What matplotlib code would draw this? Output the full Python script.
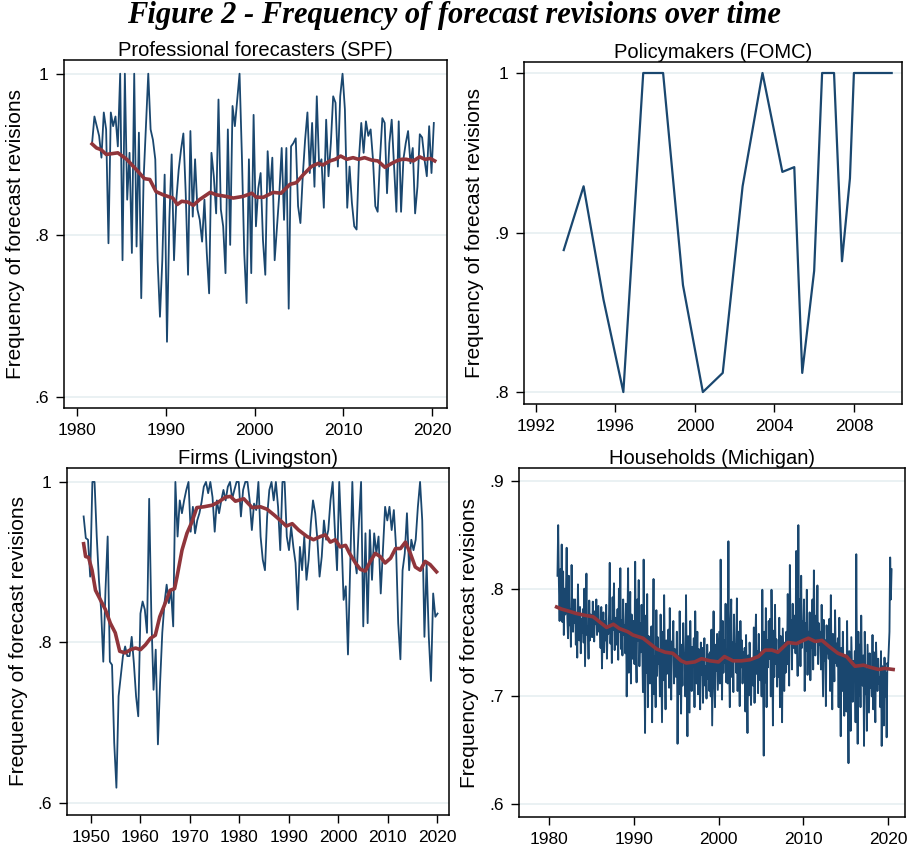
import numpy as np
import matplotlib.pyplot as plt

# === SPF (quarterly share of forecasters revising) ===
spf_rev = [
    0.914, 0.947, 0.935, 0.923, 0.896, 0.952, 0.931, 0.790, 0.952, 0.935,
    0.947, 0.910, 1.000, 0.769, 1.000, 0.844, 0.902, 0.778, 1.000, 0.786,
    0.927, 0.722, 0.869, 0.935, 1.000, 0.931, 0.918, 0.894, 0.769, 0.699,
    0.769, 0.875, 0.668, 0.819, 0.900, 0.769, 0.844, 0.881, 0.906, 0.926,
    0.852, 0.751, 0.929, 0.823, 0.894, 0.832, 0.819, 0.792, 0.844, 0.778,
    0.728, 0.902, 0.873, 0.827, 0.968, 0.832, 0.811, 0.753, 0.931, 0.788,
    0.960, 0.935, 0.968, 1.000, 0.898, 0.778, 0.716, 0.894, 0.753, 0.949,
    0.811, 0.858, 0.877, 0.794, 0.751, 0.904, 0.852, 0.896, 0.769, 0.811,
    0.852, 0.908, 0.819, 0.908, 0.709, 0.910, 0.914, 0.920, 0.836, 0.815,
    0.873, 0.918, 0.952, 0.877, 0.939, 0.860, 0.972, 0.885, 0.894, 0.834,
    0.943, 0.873, 0.914, 0.972, 0.964, 0.885, 0.972, 1.000, 0.956, 0.834,
    0.885, 0.840, 0.811, 0.807, 0.894, 0.939, 0.902, 0.941, 0.923, 0.931,
    0.894, 0.836, 0.829, 0.894, 0.945, 0.939, 0.852, 0.914, 0.943, 0.885,
    0.829, 0.941, 0.829, 0.894, 0.914, 0.929, 0.889, 0.908, 0.827, 0.860,
    0.925, 0.921, 0.894, 0.873, 0.935, 0.877, 0.939,
]
spf_years = np.linspace(1981.7, 2020.2, len(spf_rev))
spf_ma_years = [
    1981.7, 1982.2, 1982.7, 1983.3, 1984.6, 1985.6, 1986.7, 1987.6, 1988.2, 1988.9,
    1989.7, 1990.8, 1991.3, 1991.8, 1992.5, 1993.1, 1993.8, 1995.0, 1995.7, 1996.8,
    1997.6, 1998.7, 1999.7, 2000.2, 2001.0, 2002.1, 2003.0, 2004.0, 2004.7, 2005.5,
    2006.4, 2007.2, 2007.7, 2008.5, 2009.1, 2009.7, 2010.4, 2011.1, 2011.7, 2012.4,
    2013.2, 2013.9, 2014.7, 2015.3, 2016.0, 2016.6, 2017.1, 2017.9, 2018.6, 2019.2,
    2019.8, 2020.3,
]
spf_ma = [
    0.913, 0.908, 0.906, 0.900, 0.902, 0.894, 0.881, 0.870, 0.869, 0.854,
    0.850, 0.846, 0.838, 0.842, 0.841, 0.837, 0.844, 0.853, 0.850, 0.848,
    0.846, 0.848, 0.852, 0.847, 0.847, 0.853, 0.852, 0.863, 0.865, 0.875,
    0.885, 0.889, 0.887, 0.892, 0.894, 0.898, 0.894, 0.896, 0.894, 0.896,
    0.893, 0.892, 0.884, 0.888, 0.892, 0.894, 0.894, 0.892, 0.897, 0.894,
    0.895, 0.892,
]

# === FOMC ===
fomc_years = [1993.4, 1994.4, 1995.4, 1996.4, 1997.4, 1998.4, 1999.4, 2000.4,
              2001.4, 2002.4, 2003.4, 2004.4, 2005.0, 2005.4, 2006.0, 2006.4,
              2007.0, 2007.4, 2007.8, 2008.0, 2008.4, 2008.8, 2009.2, 2009.5, 2009.9]
fomc_rev = [0.889, 0.929, 0.858, 0.800, 1.000, 1.000, 0.867, 0.800,
            0.812, 0.929, 1.000, 0.938, 0.941, 0.812, 0.876, 1.000,
            1.000, 0.882, 0.934, 1.000, 1.000, 1.000, 1.000, 1.000, 1.000]

# === Livingston (semi-annual) ===
liv_rev = [
    0.957, 0.930, 0.928, 0.882, 1.000, 1.000, 0.932, 0.878, 0.841, 0.776,
    0.865, 0.932, 0.776, 0.772, 0.675, 0.619, 0.733, 0.758, 0.783, 0.795,
    0.783, 0.783, 0.807, 0.774, 0.733, 0.708, 0.836, 0.851, 0.841, 0.812,
    0.979, 0.832, 0.741, 0.791, 0.673, 0.750, 0.812, 0.849, 0.872, 0.849,
    0.865, 0.820, 1.000, 0.932, 0.977, 0.961, 0.977, 0.990, 1.000, 0.938,
    0.969, 0.936, 0.952, 0.961, 0.975, 0.994, 1.000, 0.986, 1.000, 0.981,
    0.938, 0.977, 0.961, 0.977, 0.990, 0.977, 0.994, 1.000, 0.979, 0.990,
    1.000, 1.000, 0.957, 0.990, 1.000, 1.000, 0.977, 0.940, 0.973, 0.965,
    1.000, 0.932, 0.903, 0.890, 0.957, 0.990, 1.000, 0.977, 1.000, 0.969,
    0.915, 1.000, 1.000, 0.932, 0.915, 0.944, 0.919, 0.899, 0.841, 0.919,
    0.890, 0.932, 0.878, 0.903, 0.948, 0.977, 0.961, 0.928, 0.882, 0.907,
    0.952, 0.928, 0.940, 0.977, 1.000, 0.940, 0.890, 1.000, 0.932, 0.853,
    0.870, 0.785, 0.890, 1.000, 0.907, 0.886, 0.948, 1.000, 0.820, 0.936,
    0.824, 0.940, 0.878, 0.936, 0.911, 0.932, 0.861, 0.915, 0.969, 0.952,
    0.969, 0.940, 0.965, 0.919, 0.824, 0.779, 0.890, 0.911, 0.961, 0.890,
    0.928, 0.915, 0.928, 0.969, 1.000, 0.952, 0.807, 0.899, 0.807, 0.752,
    0.861, 0.832, 0.836,
]
liv_years = np.linspace(1948.5, 2020.1, len(liv_rev))
liv_ma_years = [
    1948.5, 1948.9, 1949.5, 1950.2, 1950.9, 1951.9, 1952.9, 1953.9, 1954.9, 1955.8,
    1956.9, 1958.0, 1959.0, 1960.0, 1961.0, 1962.0, 1963.0, 1963.9, 1965.0, 1966.0,
    1966.9, 1967.4, 1968.4, 1969.4, 1970.4, 1971.4, 1972.8, 1974.5, 1975.8, 1977.2,
    1978.2, 1979.2, 1980.9, 1982.6, 1984.3, 1985.6, 1987.0, 1988.3, 1989.5, 1990.7,
    1992.0, 1993.7, 1995.0, 1996.4, 1997.4, 1998.4, 1999.4, 2000.4, 2001.5, 2002.3,
    2003.5, 2004.5, 2005.5, 2006.5, 2007.5, 2008.5, 2009.5, 2010.6, 2011.6, 2012.6,
    2013.6, 2014.6, 2015.6, 2016.6, 2017.6, 2018.6, 2019.9,
]
liv_ma = [
    0.923, 0.907, 0.906, 0.890, 0.865, 0.853, 0.841, 0.824, 0.812, 0.789,
    0.787, 0.791, 0.793, 0.791, 0.797, 0.805, 0.809, 0.832, 0.849, 0.865,
    0.867, 0.882, 0.915, 0.936, 0.950, 0.968, 0.969, 0.971, 0.975, 0.981,
    0.982, 0.976, 0.979, 0.968, 0.969, 0.966, 0.959, 0.952, 0.945, 0.948,
    0.940, 0.932, 0.928, 0.932, 0.934, 0.925, 0.928, 0.919, 0.921, 0.911,
    0.899, 0.891, 0.889, 0.901, 0.911, 0.907, 0.899, 0.905, 0.917, 0.917,
    0.925, 0.911, 0.894, 0.890, 0.901, 0.897, 0.888,
]

# === Michigan (monthly, one row per year from 1981) ===
mich_rev = [
    0.812, 0.859, 0.806, 0.770, 0.818, 0.780, 0.841, 0.769, 0.816, 0.757, 0.800, 0.776,
    0.795, 0.838, 0.772, 0.754, 0.812, 0.766, 0.781, 0.746, 0.822, 0.771, 0.760, 0.790,
    0.768, 0.790, 0.748, 0.777, 0.736, 0.804, 0.762, 0.752, 0.783, 0.740, 0.772, 0.759,
    0.781, 0.750, 0.800, 0.728, 0.770, 0.814, 0.757, 0.765, 0.735, 0.789, 0.752, 0.776,
    0.772, 0.755, 0.788, 0.762, 0.751, 0.779, 0.767, 0.790, 0.757, 0.770, 0.784, 0.760,
    0.766, 0.745, 0.783, 0.726, 0.760, 0.778, 0.741, 0.770, 0.752, 0.785, 0.735, 0.762,
    0.758, 0.776, 0.824, 0.749, 0.770, 0.731, 0.792, 0.762, 0.805, 0.743, 0.773, 0.755,
    0.748, 0.781, 0.734, 0.800, 0.760, 0.819, 0.744, 0.771, 0.738, 0.790, 0.757, 0.766,
    0.740, 0.786, 0.700, 0.765, 0.819, 0.722, 0.752, 0.797, 0.712, 0.776, 0.735, 0.760,
    0.770, 0.730, 0.825, 0.745, 0.713, 0.790, 0.752, 0.808, 0.728, 0.768, 0.741, 0.785,
    0.750, 0.704, 0.827, 0.731, 0.666, 0.775, 0.722, 0.795, 0.690, 0.756, 0.738, 0.712,
    0.728, 0.765, 0.676, 0.748, 0.809, 0.702, 0.737, 0.690, 0.780, 0.719, 0.755, 0.730,
    0.742, 0.700, 0.776, 0.727, 0.676, 0.760, 0.715, 0.794, 0.731, 0.688, 0.752, 0.721,
    0.735, 0.762, 0.708, 0.782, 0.726, 0.697, 0.751, 0.741, 0.770, 0.712, 0.744, 0.729,
    0.718, 0.760, 0.656, 0.737, 0.702, 0.779, 0.725, 0.684, 0.748, 0.710, 0.768, 0.731,
    0.740, 0.700, 0.794, 0.722, 0.663, 0.756, 0.718, 0.685, 0.770, 0.731, 0.705, 0.746,
    0.728, 0.754, 0.690, 0.779, 0.735, 0.712, 0.760, 0.702, 0.744, 0.722, 0.688, 0.750,
    0.720, 0.745, 0.694, 0.736, 0.754, 0.710, 0.728, 0.698, 0.748, 0.716, 0.739, 0.705,
    0.741, 0.700, 0.762, 0.673, 0.728, 0.779, 0.715, 0.690, 0.748, 0.724, 0.758, 0.706,
    0.735, 0.760, 0.712, 0.827, 0.748, 0.697, 0.770, 0.722, 0.752, 0.731, 0.786, 0.713,
    0.740, 0.712, 0.844, 0.728, 0.690, 0.765, 0.790, 0.718, 0.750, 0.704, 0.776, 0.735,
    0.748, 0.722, 0.791, 0.705, 0.760, 0.735, 0.691, 0.770, 0.727, 0.752, 0.712, 0.741,
    0.720, 0.745, 0.686, 0.757, 0.712, 0.666, 0.738, 0.701, 0.750, 0.727, 0.692, 0.731,
    0.735, 0.710, 0.764, 0.694, 0.749, 0.776, 0.721, 0.742, 0.703, 0.758, 0.728, 0.715,
    0.741, 0.700, 0.799, 0.724, 0.645, 0.760, 0.713, 0.782, 0.690, 0.752, 0.727, 0.770,
    0.735, 0.772, 0.700, 0.799, 0.748, 0.673, 0.761, 0.718, 0.785, 0.730, 0.753, 0.709,
    0.742, 0.718, 0.773, 0.690, 0.756, 0.727, 0.676, 0.763, 0.735, 0.705, 0.750, 0.722,
    0.760, 0.730, 0.795, 0.740, 0.710, 0.822, 0.752, 0.771, 0.725, 0.786, 0.745, 0.768,
    0.775, 0.740, 0.835, 0.760, 0.719, 0.859, 0.750, 0.790, 0.728, 0.812, 0.745, 0.770,
    0.752, 0.790, 0.705, 0.768, 0.742, 0.799, 0.720, 0.760, 0.735, 0.778, 0.715, 0.750,
    0.745, 0.790, 0.725, 0.817, 0.760, 0.738, 0.775, 0.752, 0.803, 0.730, 0.768, 0.748,
    0.760, 0.725, 0.785, 0.742, 0.700, 0.771, 0.733, 0.752, 0.691, 0.766, 0.740, 0.756,
    0.735, 0.772, 0.705, 0.794, 0.726, 0.688, 0.758, 0.740, 0.714, 0.780, 0.731, 0.749,
    0.728, 0.754, 0.690, 0.773, 0.715, 0.663, 0.745, 0.705, 0.760, 0.720, 0.682, 0.738,
    0.720, 0.686, 0.770, 0.705, 0.638, 0.742, 0.712, 0.668, 0.755, 0.726, 0.695, 0.733,
    0.715, 0.742, 0.676, 0.832, 0.720, 0.656, 0.760, 0.701, 0.748, 0.690, 0.775, 0.724,
    0.710, 0.738, 0.654, 0.760, 0.702, 0.725, 0.668, 0.748, 0.716, 0.685, 0.740, 0.708,
    0.725, 0.700, 0.757, 0.688, 0.741, 0.715, 0.676, 0.750, 0.722, 0.705, 0.735, 0.712,
    0.718, 0.690, 0.742, 0.654, 0.728, 0.705, 0.673, 0.736, 0.700, 0.722, 0.662, 0.731,
    0.728, 0.745, 0.760, 0.829, 0.790, 0.818,
]
mich_years = 1981 + np.arange(len(mich_rev)) / 12
mich_ma_years = [
    1980.9, 1981.5, 1982.4, 1983.2, 1984.4, 1985.2, 1986.0, 1986.8, 1987.6, 1988.3,
    1989.3, 1989.9, 1991.1, 1991.9, 1992.7, 1993.7, 1994.6, 1995.6, 1996.2, 1997.2,
    1998.0, 1999.0, 2000.0, 2000.7, 2001.7, 2002.7, 2003.7, 2004.7, 2005.5, 2006.3,
    2007.0, 2008.2, 2009.2, 2010.0, 2010.6, 2011.4, 2012.2, 2013.1, 2014.1, 2015.1,
    2016.1, 2017.1, 2017.9, 2018.9, 2019.6, 2020.6,
]
mich_ma = [
    0.783, 0.781, 0.779, 0.777, 0.775, 0.774, 0.769, 0.764, 0.767, 0.763,
    0.760, 0.757, 0.754, 0.749, 0.744, 0.741, 0.740, 0.733, 0.731, 0.732,
    0.735, 0.733, 0.732, 0.737, 0.733, 0.733, 0.734, 0.737, 0.743, 0.743,
    0.741, 0.750, 0.749, 0.752, 0.754, 0.751, 0.752, 0.746, 0.740, 0.737,
    0.728, 0.729, 0.727, 0.725, 0.726, 0.725,
]

NAVY = "#1a476f"
MAROON = "#90353b"
GRID = "#e6eff1"


def style(ax, title, xticks, yticks, ylabels, xlim, ylim):
    ax.set_xlim(*xlim)
    ax.set_ylim(*ylim)
    ax.set_xticks(xticks)
    ax.set_xticklabels([str(t) for t in xticks])
    ax.set_yticks(yticks)
    ax.set_yticklabels(ylabels)
    ax.grid(axis="y", color=GRID, linewidth=1.2)
    ax.set_axisbelow(True)
    ax.tick_params(direction="out", length=6, width=1, labelsize=12.5, pad=5)
    for s in ax.spines.values():
        s.set_linewidth(1.1)
    ax.set_ylabel("Frequency of forecast revisions", fontsize=15, labelpad=7)
    ax.set_title(title, fontsize=14.5, pad=2)


plt.rcParams["font.family"] = ["Liberation Sans", "DejaVu Sans"]
fig = plt.figure(figsize=(9.07, 8.47), dpi=100)

ax1 = fig.add_axes([0.0706, 0.5183, 0.4223, 0.4109])
ax1.plot(spf_years, spf_rev, color=NAVY, lw=1.3)
ax1.plot(spf_ma_years, spf_ma, color=MAROON, lw=2.6)
style(ax1, "Professional forecasters (SPF)", [1980, 1990, 2000, 2010, 2020],
      [0.6, 0.8, 1.0], [".6", ".8", "1"], (1978.54, 2021.69), (0.586, 1.017))

ax2 = fig.add_axes([0.5777, 0.523, 0.4168, 0.4038])
ax2.plot(fomc_years, fomc_rev, color=NAVY, lw=1.6)
style(ax2, "Policymakers (FOMC)", [1992, 1996, 2000, 2004, 2008],
      [0.8, 0.9, 1.0], [".8", ".9", "1"], (1991.4, 2010.42), (0.7925, 1.0069))

ax3 = fig.add_axes([0.0739, 0.0378, 0.4212, 0.4097])
ax3.plot(liv_years, liv_rev, color=NAVY, lw=1.3)
ax3.plot(liv_ma_years, liv_ma, color=MAROON, lw=2.6)
style(ax3, "Firms (Livingston)", [1950, 1960, 1970, 1980, 1990, 2000, 2010, 2020],
      [0.6, 0.8, 1.0], [".6", ".8", "1"], (1945.14, 2022.43), (0.585, 1.0174))

ax4 = fig.add_axes([0.5722, 0.0354, 0.4256, 0.412])
ax4.plot(mich_years, mich_rev, color=NAVY, lw=1.35)
ax4.plot(mich_ma_years, mich_ma, color=MAROON, lw=2.6)
style(ax4, "Households (Michigan)", [1980, 1990, 2000, 2010, 2020],
      [0.6, 0.7, 0.8, 0.9], [".6", ".7", ".8", ".9"], (1976.46, 2022.0), (0.588, 0.912))

fig.text(0.5, 0.982, "Figure 2 - Frequency of forecast revisions over time",
         ha="center", va="center", fontsize=22, fontweight="bold", fontstyle="italic",
         family=["Liberation Serif", "DejaVu Serif"])

fig.savefig("out.png", dpi=100)
